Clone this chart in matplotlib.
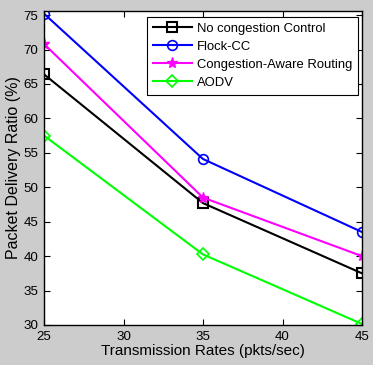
import matplotlib
matplotlib.use("Agg")
import matplotlib.pyplot as plt

plt.rcParams['font.family'] = ['Liberation Sans', 'DejaVu Sans']

rates = [25, 35, 45]
no_cc = [66.4, 47.7, 37.5]
flock_cc = [75.2, 54.1, 43.5]
ca_routing = [70.8, 48.5, 40.0]
aodv = [57.5, 40.25, 30.15]

labels = ['No congestion Control', 'Flock-CC', 'Congestion-Aware Routing', 'AODV']
xticks = [25, 30, 35, 40, 45]
yticks = [30, 35, 40, 45, 50, 55, 60, 65, 70, 75]

fig = plt.figure(figsize=(3.73, 3.65), dpi=100, facecolor='#cccccc')
ax = fig.add_axes([0.118, 0.1096, 0.8525, 0.8604])
ax.set_facecolor('white')

fs = 9.6
ax.plot(rates, no_cc, color='black', marker='s', markersize=7, markerfacecolor='none',
        markeredgewidth=1.5, linewidth=1.5, label=labels[0])
ax.plot(rates, flock_cc, color='#0000ff', marker='o', markersize=7, markerfacecolor='none',
        markeredgewidth=1.2, linewidth=1.5, label=labels[1])
ax.plot(rates, ca_routing, color='#ff00ff', marker='*', markersize=8,
        markeredgewidth=1.0, linewidth=1.5, label=labels[2])
ax.plot(rates, aodv, color='#00ff00', marker='D', markersize=6, markerfacecolor='none',
        markeredgewidth=1.2, linewidth=1.5, label=labels[3])

ax.set_xlim(25, 45)
ax.set_ylim(30, 75.6)
ax.set_xticks(xticks)
ax.set_yticks(yticks)
ax.tick_params(direction='in', top=True, right=True, length=4, width=0.8,
               labelsize=fs, colors='black', pad=4)
for s in ax.spines.values():
    s.set_linewidth(1.0)
    s.set_color('black')

ax.set_xlabel('Transmission Rates (pkts/sec)', fontsize=11, labelpad=1)
ax.set_ylabel('Packet Delivery Ratio (%)', fontsize=11.5, labelpad=2)

leg = ax.legend(loc='upper right', fontsize=9.4, fancybox=False, framealpha=1,
                edgecolor='black', borderpad=0.45, labelspacing=0.45,
                handlelength=3.0, handletextpad=0.35, borderaxespad=0,
                bbox_to_anchor=(0.987, 0.981))
leg.get_frame().set_linewidth(0.8)

fig.savefig('out.png', dpi=100, facecolor=fig.get_facecolor())
